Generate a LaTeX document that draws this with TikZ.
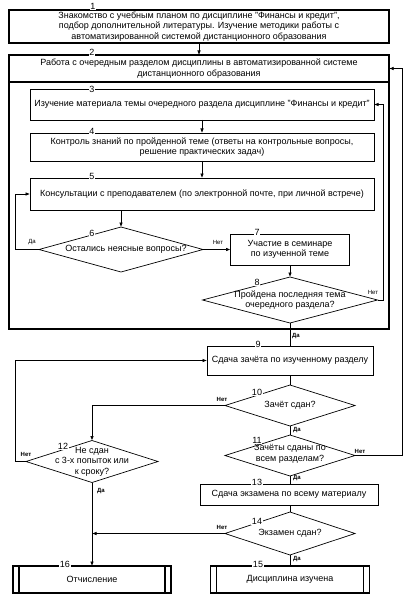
\documentclass[tikz,border=0pt]{standalone}
\usepackage{fontspec}
\setmainfont{Liberation Sans}
\usetikzlibrary{shapes.geometric,arrows.meta}
\begin{document}
\begin{tikzpicture}[x=1pt,y=-1pt,
  every node/.style={font=\fontsize{9}{10.5}\selectfont, inner sep=0pt},
  box/.style={draw, rectangle, line width=0.7pt, outer sep=0pt, align=center},
  tbox/.style={draw, rectangle, line width=1.8pt, outer sep=0pt, align=center},
  dia/.style={draw, diamond, line width=0.7pt, outer sep=0pt},
  dtext/.style={align=center},
  num/.style={fill=white, inner sep=0.6pt, font=\fontsize{9}{9}\selectfont},
  yn/.style={font=\fontsize{6}{6}\selectfont},
  ynb/.style={font=\bfseries\fontsize{6}{6}\selectfont},
  ln/.style={line width=0.7pt},
  arr/.style={line width=0.7pt, -{Latex[length=4.5pt,width=3.6pt]}}
]
\useasboundingbox (0,0) rectangle (417,596);

% boxes
\node[tbox, minimum width=380, minimum height=33] (b1) at (199,26.5)
  {Знакомство  с учебным планом по дисциплине "Финансы и кредит",\\
   подбор дополнительной литературы. Изучение методики работы с\\
   автоматизированной системой  дистанционного образования};
\node[tbox, minimum width=380, minimum height=274] (b2) at (199,192) {};
\node[minimum width=380, minimum height=27, align=center] (b2h) at (199,68.5)
  {Работа с очередным разделом дисциплины в автоматизированной  системе\\
   дистанционного образования};
\draw[line width=1.4pt] (b2h.south west) -- (b2h.south east);

\node[box, minimum width=344, minimum height=31] (b3) at (202,104.5)
  {Изучение материала темы очередного раздела дисциплине "Финансы и кредит"};
\node[box, minimum width=344, minimum height=28] (b4) at (202,147)
  {Контроль знаний по пройденной теме  (ответы на контрольные вопросы,\\
   решение практических задач)};
\node[box, minimum width=344, minimum height=32] (b5) at (202,194)
  {Консультации с преподавателем (по электронной почте, при личной встрече)};

\node[dia, minimum width=164, minimum height=45] (d6) at (121,249.5) {};
\node[dtext] (d6t) at (126,249) {Остались неясные вопросы?};

\node[box, minimum width=119, minimum height=31] (b7) at (290,249.5)
  {Участие в семинаре\\по изученной теме};

\node[dia, minimum width=175, minimum height=46] (d8) at (290,300) {};
\node[dtext] (d8t) at (290,300) {Пройдена последняя тема\\очередного раздела?};

\node[box, minimum width=166, minimum height=29] (b9) at (290,360.5)
  {Сдача зачёта по изученному разделу};

\node[dia, minimum width=130, minimum height=41] (d10) at (290,405.5) {};
\node[dtext] (d10t) at (290,405) {Зачёт сдан?};

\node[dia, minimum width=130, minimum height=41] (d11) at (290,455.5) {};
\node[dtext] (d11t) at (290,454) {Зачёты сданы по\\всем разделам?};

\node[dia, minimum width=132, minimum height=42] (d12) at (92,461.5) {};
\node[dtext] (d12t) at (92,461.5) {Не сдан\\с 3-х попыток или\\к сроку?};

\node[box, minimum width=178, minimum height=21] (b13) at (289,494.5)
  {Сдача экзамена по всему материалу};

\node[dia, minimum width=130, minimum height=43] (d14) at (290,533.5) {};
\node[dtext] (d14t) at (290,533) {Экзамен сдан?};

\node[tbox, minimum width=159, minimum height=27] (b15) at (290,579.5)
  {Дисциплина изучена};
\node[tbox, minimum width=158, minimum height=27] (b16) at (92,579.5)
  {Отчисление};
\draw[line width=1.4pt] ([xshift=6pt]b15.north west) -- ([xshift=6pt]b15.south west);
\draw[line width=1.4pt] ([xshift=-6pt]b15.north east) -- ([xshift=-6pt]b15.south east);
\draw[line width=1.4pt] ([xshift=6pt]b16.north west) -- ([xshift=6pt]b16.south west);
\draw[line width=1.4pt] ([xshift=-6pt]b16.north east) -- ([xshift=-6pt]b16.south east);

% connectors
\draw[arr] (b1.south) -- (b2.north);
\draw[arr] (b3.south) -- (b4.north);
\draw[arr] (b4.south) -- (b5.north);
\draw[arr] (b5.south -| d6.north) -- (d6.north);
\draw[arr] (d6.west) -- ++(-24,0) |- (b5.west);
\draw[arr] (d6.east) -- (b7.west);
\draw[arr] (b7.south) -- (d8.north);
\draw[arr] (d8.east) -- ++(6,0) |- (b3.east);
\draw[ln] (d8.south) -- (d8.south |- b9.north);
\draw[ln] (b9.south) -- (d10.north);
\draw[ln] (d10.south) -- (d11.north);
\draw[arr] (d10.west) -| (d12.north);
\draw[arr] (d11.east) -- ++(47,0) |- (b2h.east);
\draw[arr] (d12.west) -- ++(-11,0) |- (b9.west);
\draw[arr] (d12.south) -- (b16.north);
\draw[ln] (d11.south) -- (d11.south |- b13.north);
\draw[ln] (d11.south |- b13.south) -- (d14.north);
\draw[arr] (d14.west) -- (d14.west -| d12.south);
\draw[ln] (d14.south) -- (b15.north);

% numbers
\node[num] (n1) at (93,6) {1};
\node[num] (n2) at (92,52.5) {2};
\node[num] (n3) at (92,89.5) {3};
\node[num] (n4) at (92,131.5) {4};
\node[num] (n5) at (92,176.5) {5};
\node[num] (n6) at (92,233) {6};
\node[num] (n7) at (257,232.5) {7};
\node[num] (n8) at (257,282) {8};
\node[num] (n9) at (258,344) {9};
\node[num] (n10) at (257,392) {10};
\node[num] (n11) at (257,440) {11};
\node[num] (n12) at (63,446) {12};
\node[num] (n13) at (257,482) {13};
\node[num] (n14) at (257,521) {14};
\node[num] (n15) at (258,564) {15};
\node[num] (n16) at (65,564) {16};

% yes/no labels
\node[yn] (l6y) at (32,242) {Да};
\node[yn] (l6n) at (218,242) {Нет};
\node[yn] (l8n) at (373,292) {Нет};
\node[ynb, anchor=west] (l8y) at (292,336) {Да};
\node[ynb] (l10n) at (222,399) {Нет};
\node[ynb, anchor=west] (l10y) at (293,430) {Да};
\node[ynb] (l11n) at (360,451) {Нет};
\node[ynb] (l12n) at (26,454) {Нет};
\node[ynb, anchor=west] (l12y) at (97,491) {Да};
\node[ynb, anchor=west] (l11y) at (293,478) {Да};
\node[ynb] (l14n) at (222,527) {Нет};
\node[ynb, anchor=west] (l14y) at (293,559) {Да};
\end{tikzpicture}
\end{document}
